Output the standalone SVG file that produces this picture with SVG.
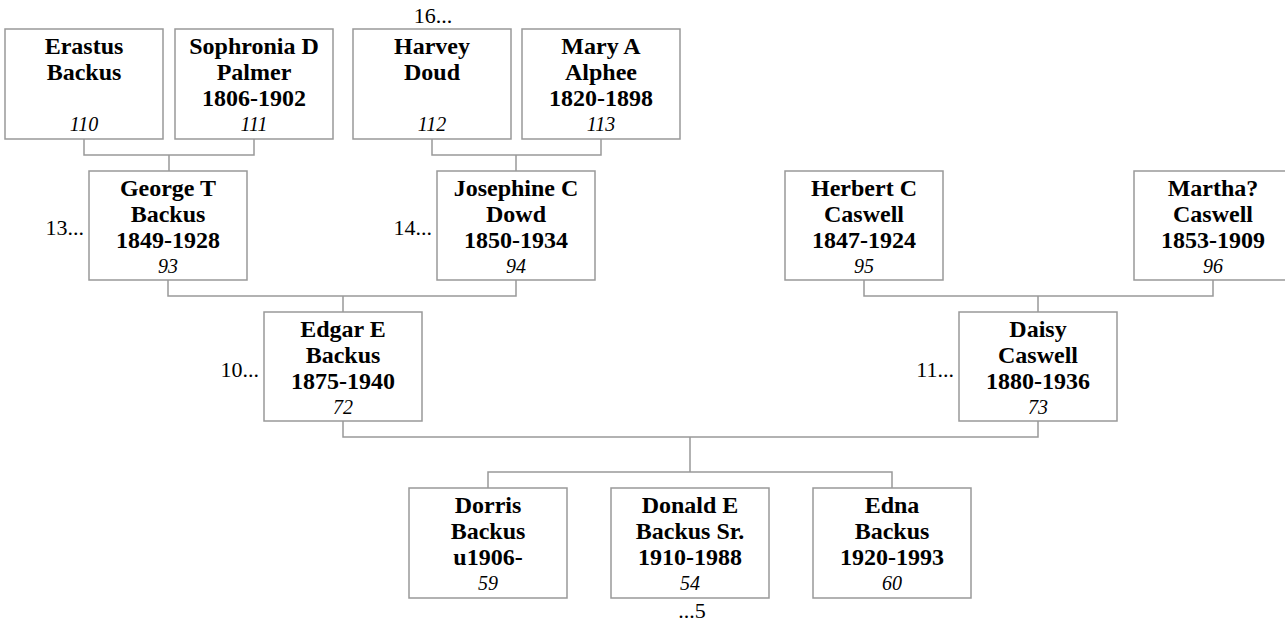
<svg xmlns="http://www.w3.org/2000/svg" width="1285" height="626" viewBox="0 0 1285 626">
<style>
.box{fill:#fff;stroke:#999;stroke-width:1.5}
.n{font-family:"Liberation Serif",serif;font-weight:bold;font-size:24px;text-anchor:middle;fill:#000}
.i{font-family:"Liberation Serif",serif;font-style:italic;font-size:20px;text-anchor:middle;fill:#000}
.m{font-family:"Liberation Serif",serif;font-size:22px;fill:#000}
.c{fill:none;stroke:#999;stroke-width:1.5}
</style>
<rect width="1285" height="626" fill="#fff"/>
<g id="connectors" class="c">
<path d="M84 139V155H254V139M169 155V171"/>
<path d="M432 139V155H601V139M516 155V171"/>
<path d="M168 280V296H516V280M343 296V312"/>
<path d="M864 280V296H1213V280M1038 296V312"/>
<path d="M343 421V437H1038V421M690 437V472M488 488V472H892V488"/>
</g>
<g id="n110"><rect class="box" x="5" y="29" width="158" height="110"/><text class="n" x="84" y="54">Erastus</text><text class="n" x="84" y="80">Backus</text><text class="i" x="84" y="131">110</text></g>
<g id="n111"><rect class="box" x="175" y="29" width="158" height="110"/><text class="n" x="254" y="54">Sophronia D</text><text class="n" x="254" y="80">Palmer</text><text class="n" x="254" y="106">1806-1902</text><text class="i" x="254" y="131">111</text></g>
<g id="n112"><rect class="box" x="353" y="29" width="158" height="110"/><text class="n" x="432" y="54">Harvey</text><text class="n" x="432" y="80">Doud</text><text class="i" x="432" y="131">112</text><text class="m" x="433" y="23" text-anchor="middle">16...</text></g>
<g id="n113"><rect class="box" x="522" y="29" width="158" height="110"/><text class="n" x="601" y="54">Mary A</text><text class="n" x="601" y="80">Alphee</text><text class="n" x="601" y="106">1820-1898</text><text class="i" x="601" y="131">113</text></g>
<g id="n93"><rect class="box" x="89" y="171" width="158" height="109"/><text class="n" x="168" y="196">George T</text><text class="n" x="168" y="222">Backus</text><text class="n" x="168" y="248">1849-1928</text><text class="i" x="168" y="273">93</text><text class="m" x="84" y="235" text-anchor="end">13...</text></g>
<g id="n94"><rect class="box" x="437" y="171" width="158" height="109"/><text class="n" x="516" y="196">Josephine C</text><text class="n" x="516" y="222">Dowd</text><text class="n" x="516" y="248">1850-1934</text><text class="i" x="516" y="273">94</text><text class="m" x="432" y="235" text-anchor="end">14...</text></g>
<g id="n95"><rect class="box" x="785" y="171" width="158" height="109"/><text class="n" x="864" y="196">Herbert C</text><text class="n" x="864" y="222">Caswell</text><text class="n" x="864" y="248">1847-1924</text><text class="i" x="864" y="273">95</text></g>
<g id="n96"><rect class="box" x="1134" y="171" width="158" height="109"/><text class="n" x="1213" y="196">Martha?</text><text class="n" x="1213" y="222">Caswell</text><text class="n" x="1213" y="248">1853-1909</text><text class="i" x="1213" y="273">96</text></g>
<g id="n72"><rect class="box" x="264" y="312" width="158" height="109"/><text class="n" x="343" y="337">Edgar E</text><text class="n" x="343" y="363">Backus</text><text class="n" x="343" y="389">1875-1940</text><text class="i" x="343" y="414">72</text><text class="m" x="259" y="377" text-anchor="end">10...</text></g>
<g id="n73"><rect class="box" x="959" y="312" width="158" height="109"/><text class="n" x="1038" y="337">Daisy</text><text class="n" x="1038" y="363">Caswell</text><text class="n" x="1038" y="389">1880-1936</text><text class="i" x="1038" y="414">73</text><text class="m" x="954" y="377" text-anchor="end">11...</text></g>
<g id="n59"><rect class="box" x="409" y="488" width="158" height="110"/><text class="n" x="488" y="513">Dorris</text><text class="n" x="488" y="539">Backus</text><text class="n" x="488" y="565">u1906-</text><text class="i" x="488" y="590">59</text></g>
<g id="n54"><rect class="box" x="611" y="488" width="158" height="110"/><text class="n" x="690" y="513">Donald E</text><text class="n" x="690" y="539">Backus Sr.</text><text class="n" x="690" y="565">1910-1988</text><text class="i" x="690" y="590">54</text><text class="m" x="692" y="618" text-anchor="middle">...5</text></g>
<g id="n60"><rect class="box" x="813" y="488" width="158" height="110"/><text class="n" x="892" y="513">Edna</text><text class="n" x="892" y="539">Backus</text><text class="n" x="892" y="565">1920-1993</text><text class="i" x="892" y="590">60</text></g>
</svg>
